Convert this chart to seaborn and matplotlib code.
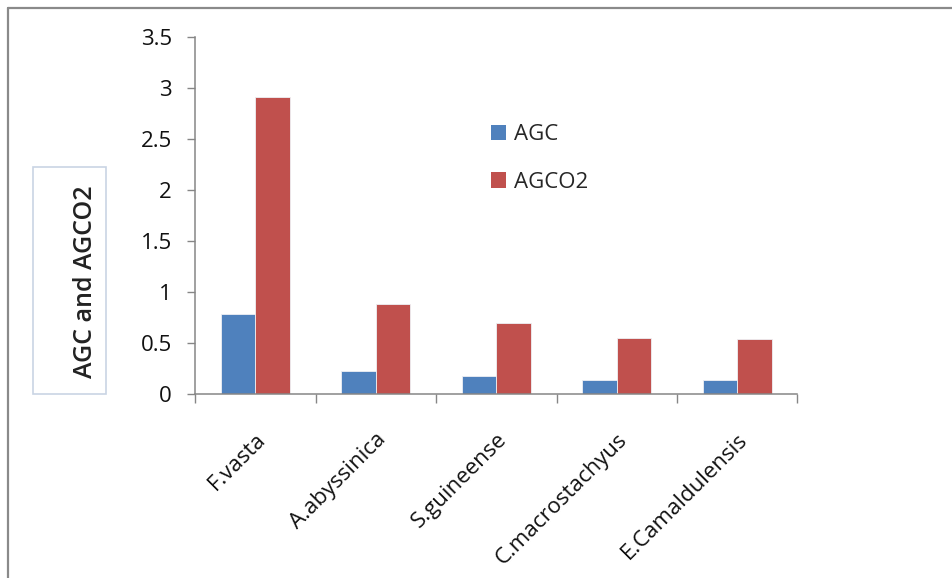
import matplotlib
matplotlib.use("Agg")
import matplotlib.pyplot as plt
from matplotlib.lines import Line2D
from matplotlib.patches import Rectangle, Patch
from matplotlib.ticker import FuncFormatter, FixedLocator
import seaborn as sns
import pandas as pd

# Tree species and their above-ground carbon (AGC) and CO2 equivalent (AGCO2)
species = ["F.vasta", "A.abyssinica", "S.guineense", "C.macrostachyus", "E.Camaldulensis"]
agc = [0.79, 0.23, 0.18, 0.14, 0.14]
agco2 = [2.91, 0.89, 0.70, 0.555, 0.54]
series_names = ["AGC", "AGCO2"]
y_ticks = [0, 0.5, 1, 1.5, 2, 2.5, 3, 3.5]

df = pd.DataFrame({
    "species": species * 2,
    "value": agc + agco2,
    "series": [series_names[0]] * len(species) + [series_names[1]] * len(species),
})

sns.set_theme(style="white")
plt.rcParams["font.family"] = ["Open Sans", "DejaVu Sans"]

W, H = 952, 578
fig = plt.figure(figsize=(W / 100, H / 100), dpi=100)
fig.patch.set_facecolor("white")

def fx(px):
    return px / W

def fy(py):
    return 1 - py / H

ax = fig.add_axes([fx(195), fy(394.3), fx(797.5) - fx(195), fy(37.3) - fy(394.3)])

colors = ["#4F81BD", "#C0504D"]
sns.barplot(data=df, x="species", y="value", hue="series", order=species,
            hue_order=series_names, palette=colors, width=0.57, saturation=1,
            edgecolor="#eef0f4", linewidth=0.6, legend=False, ax=ax)

axis_col = "#868686"
ax.set_xlim(-0.5, len(species) - 0.5)
ax.set_ylim(0, 3.5)
ax.set_yticks(y_ticks)
ax.yaxis.set_major_formatter(FuncFormatter(lambda v, p: f"{v:g}"))
ax.set_xlabel("")
ax.set_ylabel("")

for side in ["top", "right"]:
    ax.spines[side].set_visible(False)
for side in ["left", "bottom"]:
    ax.spines[side].set_color(axis_col)
    ax.spines[side].set_linewidth(1.1)

ax.tick_params(axis="y", direction="out", length=5.5, width=1.0, color=axis_col,
               pad=11, labelsize=16, labelcolor="#111111", left=True)
# category boundaries get the tick marks; labels sit at category centres
ax.xaxis.set_minor_locator(FixedLocator([i - 0.5 for i in range(len(species) + 1)]))
ax.tick_params(axis="x", which="minor", direction="out", length=6.5, width=1.0,
               color=axis_col, bottom=True)
ax.tick_params(axis="x", which="major", length=0, pad=25, labelsize=16,
               labelcolor="#111111")
for lab in ax.get_xticklabels():
    lab.set_rotation(45)
    lab.set_ha("right")
    lab.set_va("top")
    lab.set_rotation_mode("anchor")

# legend
handles = [Patch(facecolor=c, edgecolor="none") for c in colors]
ax.legend(handles, series_names, loc="upper left",
          bbox_to_anchor=(fx(491), fy(124)), bbox_transform=fig.transFigure,
          frameon=False, fontsize=16, handlelength=0.68, handleheight=0.68,
          handletextpad=0.36, labelspacing=1.2, borderpad=0, borderaxespad=0)

# boxed y-axis title
fig.add_artist(Rectangle((fx(33), fy(394)), fx(106) - fx(33), fy(167) - fy(394),
                         transform=fig.transFigure, facecolor="white",
                         edgecolor="#c9d4e4", linewidth=1.2))
fig.text(fx(86), fy(281.5), "AGC and AGCO2", rotation=90, ha="center", va="center",
         fontsize=18, fontweight="semibold", color="#222222")

# outer chart frame (top and left edges)
fig.add_artist(Line2D([fx(8), 1], [fy(7.5), fy(7.5)], transform=fig.transFigure,
                      color="#8a8a8a", linewidth=1.6))
fig.add_artist(Line2D([fx(8), fx(8)], [fy(7.5), 0], transform=fig.transFigure,
                      color="#8a8a8a", linewidth=1.6))

fig.savefig("out.png", dpi=100, facecolor="white")
